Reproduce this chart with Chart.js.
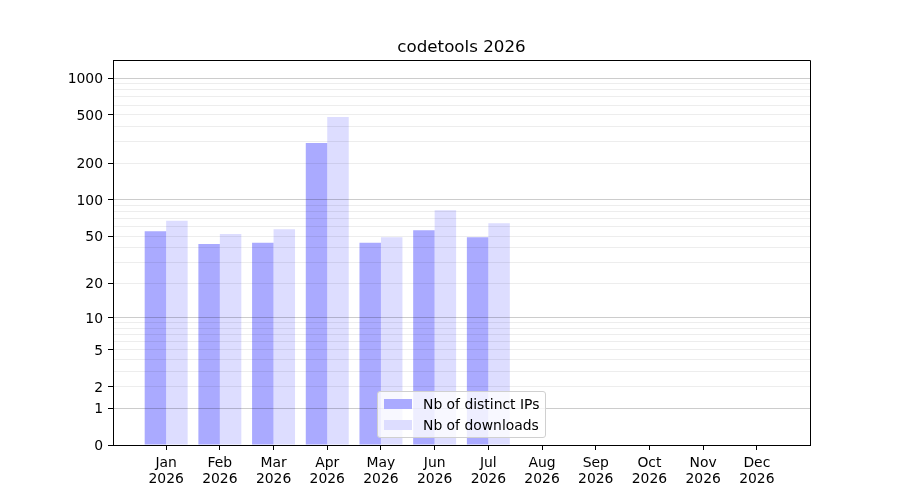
<!DOCTYPE html>
<html>
<head>
<meta charset="utf-8">
<title>codetools 2026</title>
<script src="https://cdn.jsdelivr.net/npm/chart.js@4.4.1/dist/chart.umd.min.js"></script>
<style>
  body { margin: 0; background: #fff; }
  #wrap { position: relative; width: 900px; height: 500px; }
  #legend {
    position: absolute;
    padding: 5px 6px 5px 6px;
    border: 1px solid #d0d0d0;
    border-radius: 3px;
    background: rgba(255, 255, 255, 0.8);
    font-family: "DejaVu Sans", sans-serif;
    font-size: 13.9px;
    color: #000;
    white-space: nowrap;
  }
  #legend .item { display: flex; align-items: center; height: 14px; }
  #legend .item + .item { margin-top: 7px; }
  #legend .swatch { width: 28px; height: 10px; margin-right: 11px; }
</style>
</head>
<body>
<div id="wrap">
  <canvas id="downloads-chart"></canvas>
  <div id="legend"></div>
</div>
<script>
// data
const months = ["Jan", "Feb", "Mar", "Apr", "May", "Jun", "Jul", "Aug", "Sep", "Oct", "Nov", "Dec"];
const year = "2026";
const distinctIps = [55, 43, 44, 293, 44, 56, 49, 0, 0, 0, 0, 0];
const downloads = [67, 52, 57, 479, 49, 82, 64, 0, 0, 0, 0, 0];

// y axis ticks
const yLabels = [0, 1, 2, 5, 10, 20, 50, 100, 200, 500, 1000];
const yMajorGrid = [1, 10, 100, 1000];
const yMinorGrid = [3, 4, 6, 7, 8, 9, 30, 40, 60, 70, 80, 90, 300, 400, 600, 700, 800, 900];
const yMax = 1403;

const FONT = "DejaVu Sans";
const FS = 13.9;

// log10(v + 1) axis
class Log1pScale extends Chart.Scale {
  determineDataLimits() {
    this.min = this.options.min ?? 0;
    this.max = this.options.max ?? this.getMinMax(true).max;
  }
  buildTicks() {
    const values = [...yLabels, ...yMinorGrid].sort((a, b) => a - b);
    return values.map((v) => ({ value: v }));
  }
  configure() {
    super.configure();
    this._start = Math.log10(this.min + 1);
    this._range = Math.log10(this.max + 1) - this._start;
  }
  getLabelForValue(value) {
    return String(value);
  }
  getPixelForValue(value) {
    if (value === null || value === undefined || isNaN(value)) return NaN;
    return this.getPixelForDecimal((Math.log10(value + 1) - this._start) / this._range);
  }
  getValueForPixel(pixel) {
    return Math.pow(10, this._start + this.getDecimalForPixel(pixel) * this._range) - 1;
  }
}
Log1pScale.id = "log1p";
Log1pScale.defaults = {};
Chart.register(Log1pScale);

// top and right spines
const frame = {
  id: "frame",
  afterDraw(chart) {
    const { ctx, chartArea: a } = chart;
    ctx.save();
    ctx.strokeStyle = "#000";
    ctx.lineWidth = 1;
    ctx.beginPath();
    ctx.moveTo(Math.round(a.left) + 0.5, Math.round(a.top) + 0.5);
    ctx.lineTo(Math.round(a.right) + 0.5, Math.round(a.top) + 0.5);
    ctx.lineTo(Math.round(a.right) + 0.5, Math.round(a.bottom) + 0.5);
    ctx.stroke();
    ctx.restore();
  },
};

function toPoints(values) {
  return values.map((v, i) => ({ x: i, y: v }));
}

const chart = new Chart(document.getElementById("downloads-chart"), {
  type: "bar",
  data: {
    datasets: [
      {
        label: "Nb of distinct IPs",
        data: toPoints(distinctIps),
        backgroundColor: "rgb(170, 170, 255)",
        categoryPercentage: 0.8,
        barPercentage: 1.0,
      },
      {
        label: "Nb of downloads",
        data: toPoints(downloads),
        backgroundColor: "rgb(221, 221, 255)",
        categoryPercentage: 0.8,
        barPercentage: 1.0,
      },
    ],
  },
  options: {
    responsive: true,
    maintainAspectRatio: false,
    animation: false,
    layout: { padding: { left: 0, right: 90, top: 0, bottom: 0 } },
    plugins: {
      legend: { display: false },
      tooltip: { enabled: false },
      title: {
        display: true,
        text: "codetools " + year,
        fullSize: false,
        color: "#000",
        font: { family: FONT, size: 16.7, weight: "normal", lineHeight: 1.2 },
        padding: { top: 38, bottom: 2 },
      },
    },
    scales: {
      x: {
        type: "linear",
        min: -0.99,
        max: 11.99,
        offset: false,
        afterBuildTicks: (scale) => {
          scale.ticks = months.map((m, i) => ({ value: i }));
        },
        afterFit: (scale) => {
          scale.height = 55;
        },
        ticks: {
          autoSkip: false,
          maxRotation: 0,
          padding: 5,
          color: "#000",
          font: { family: FONT, size: FS, lineHeight: 1.15 },
          callback: (value) => [months[value], year],
        },
        grid: {
          offset: false,
          drawOnChartArea: false,
          tickLength: 5,
          tickColor: "#000",
        },
        border: { color: "#000", width: 1, z: 2 },
      },
      y: {
        type: "log1p",
        position: "left",
        min: 0,
        max: yMax,
        z: 1,
        afterFit: (scale) => {
          scale.width = 113;
        },
        ticks: {
          autoSkip: false,
          padding: 5,
          labelOffset: 1.5,
          color: "#000",
          font: { family: FONT, size: FS },
          callback: (value) => (yLabels.includes(value) ? String(value) : ""),
        },
        grid: {
          z: 1,
          tickLength: 5,
          color: (ctx) => {
            const v = ctx.tick ? ctx.tick.value : null;
            if (v === 0) return "rgba(0,0,0,0)";
            return yMajorGrid.includes(v) ? "rgba(0,0,0,0.2)" : "rgba(0,0,0,0.07)";
          },
          tickColor: (ctx) => (ctx.tick && yLabels.includes(ctx.tick.value) ? "#000" : "rgba(0,0,0,0)"),
        },
        border: { color: "#000", width: 1, z: 2 },
      },
    },
  },
  plugins: [frame],
});

// legend inside the plot, lower center
function buildLegend(chart) {
  const box = document.getElementById("legend");
  box.innerHTML = "";
  chart.data.datasets.forEach((ds) => {
    const item = document.createElement("div");
    item.className = "item";
    const swatch = document.createElement("span");
    swatch.className = "swatch";
    swatch.style.background = ds.backgroundColor;
    const text = document.createElement("span");
    text.textContent = ds.label;
    item.appendChild(swatch);
    item.appendChild(text);
    box.appendChild(item);
  });
  const a = chart.chartArea;
  box.style.left = Math.round((a.left + a.right) / 2 - box.offsetWidth / 2) + "px";
  box.style.top = Math.round(a.bottom - 7 - box.offsetHeight) + "px";
}

buildLegend(chart);
</script>
</body>
</html>
